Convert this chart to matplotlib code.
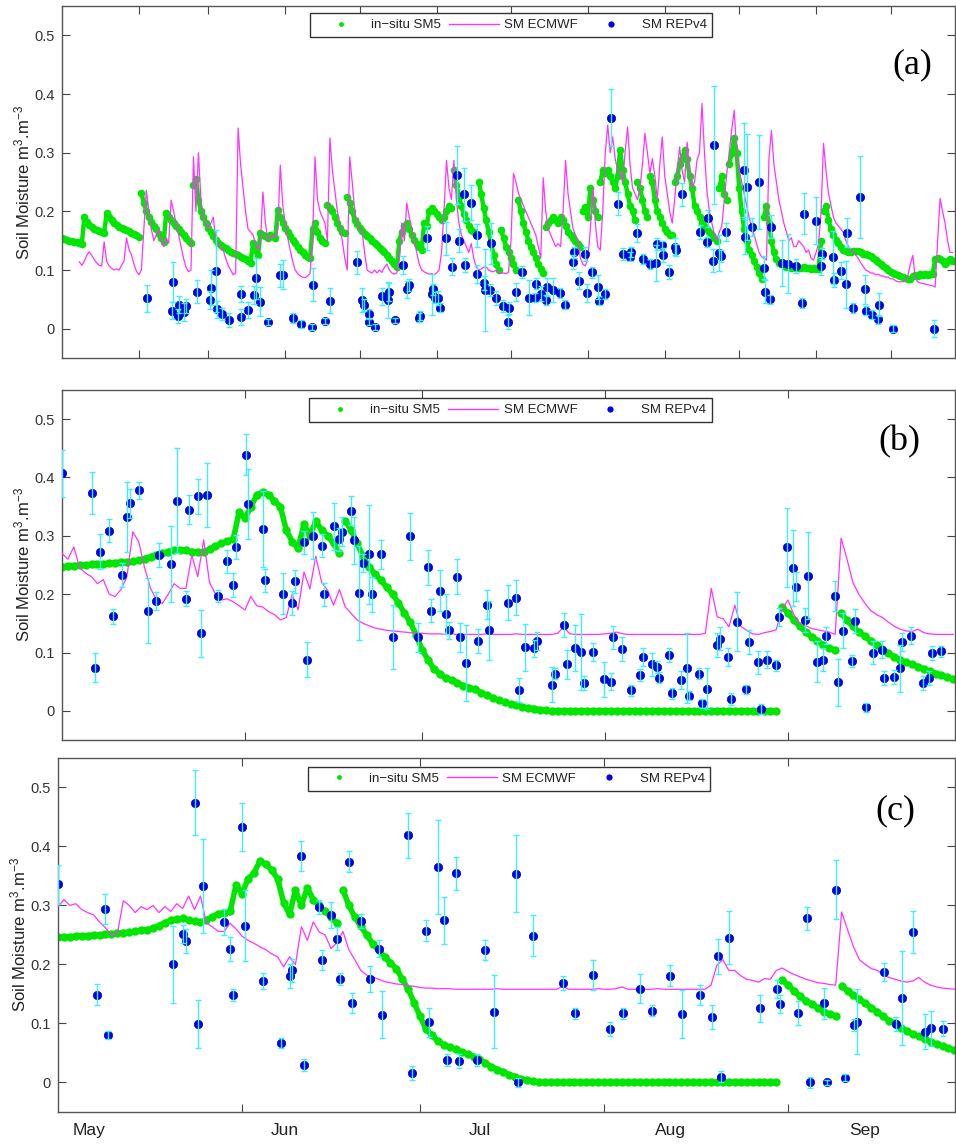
import numpy as np
import matplotlib
matplotlib.use("Agg")
from matplotlib import pyplot as plt
from matplotlib.lines import Line2D
from matplotlib.transforms import blended_transform_factory

plt.rcParams['font.family'] = ['Liberation Sans', 'DejaVu Sans']
plt.rcParams['mathtext.default'] = 'regular'

GREEN = '#00e600'
MAGENTA = '#ff33ff'
BLUE = '#0000f0'
CYAN = '#40eeff'

# ---------------- panel (a): day of year (Jan 1 = 0) ----------------
a_insitu = [
    0.155, 0.153, 0.152, 0.150, 0.150, 0.148, 0.147, 0.146, 0.145, 0.190,
    0.182, 0.177, 0.173, 0.170, 0.168, 0.166, 0.165, 0.163, 0.197, 0.190,
    0.185, 0.180, 0.177, 0.174, 0.172, 0.170, 0.168, 0.166, 0.164, 0.162,
    0.160, 0.157, 0.231, 0.215, 0.200, 0.190, 0.182, 0.175, 0.170, 0.162,
    0.155, 0.148, 0.197, 0.190, 0.185, 0.180, 0.175, 0.170, 0.165, 0.160,
    0.155, 0.150, 0.146, 0.245, 0.255, 0.220, 0.200, 0.190, 0.180, 0.172,
    0.165, 0.158, 0.152, 0.146, 0.143, 0.140, 0.137, 0.134, 0.131, 0.129,
    0.127, 0.125, 0.122, 0.120, 0.118, 0.115, 0.112, 0.146, 0.135, 0.125,
    0.163, 0.160, 0.158, 0.155, 0.160, 0.158, 0.155, 0.202, 0.190, 0.180,
    0.172, 0.165, 0.158, 0.152, 0.146, 0.140, 0.135, 0.130, 0.126, 0.123,
    0.121, 0.170, 0.180, 0.165, 0.155, 0.150, 0.146, 0.211, 0.205, 0.200,
    0.190, 0.180, 0.172, 0.165, 0.163, 0.224, 0.215, 0.200, 0.185, 0.178,
    0.172, 0.167, 0.162, 0.158, 0.154, 0.150, 0.146, 0.142, 0.138, 0.134,
    0.130, 0.125, 0.120, 0.115, 0.110, 0.105, 0.150, 0.165, 0.175, 0.180,
    0.170, 0.160, 0.152, 0.145, 0.140, 0.134, 0.180, 0.175, 0.200, 0.205,
    0.200, 0.195, 0.190, 0.185, 0.190, 0.200, 0.210, 0.205, 0.270, 0.245,
    0.225, 0.210, 0.195, 0.185, 0.175, 0.168, 0.165, 0.160, 0.250, 0.230,
    0.205, 0.185, 0.165, 0.145, 0.125, 0.110, 0.100, 0.168, 0.155, 0.140,
    0.130, 0.120, 0.110, 0.100, 0.219, 0.200, 0.180, 0.165, 0.150, 0.140,
    0.130, 0.120, 0.110, 0.102, 0.095, 0.173, 0.180, 0.185, 0.190, 0.185,
    0.180, 0.190, 0.185, 0.175, 0.165, 0.160, 0.155, 0.150, 0.145, 0.140,
    0.200, 0.207, 0.190, 0.240, 0.220, 0.200, 0.190, 0.250, 0.270, 0.265,
    0.270, 0.260, 0.250, 0.240, 0.260, 0.305, 0.270, 0.250, 0.230, 0.210,
    0.200, 0.185, 0.250, 0.240, 0.220, 0.200, 0.190, 0.260, 0.250, 0.220,
    0.200, 0.190, 0.180, 0.170, 0.165, 0.160, 0.160, 0.250, 0.260, 0.280,
    0.290, 0.305, 0.290, 0.260, 0.240, 0.210, 0.200, 0.190, 0.180, 0.175,
    0.170, 0.165, 0.160, 0.155, 0.150, 0.240, 0.260, 0.230, 0.220, 0.280,
    0.300, 0.325, 0.300, 0.240, 0.200, 0.170, 0.150, 0.135, 0.125, 0.115,
    0.105, 0.095, 0.085, 0.190, 0.210, 0.180, 0.150, 0.130, 0.118, 0.112,
    0.110, 0.108, 0.106, 0.105, 0.104, 0.105, 0.104, 0.103, 0.104, 0.105,
    0.104, 0.103, 0.102, 0.103, 0.102, 0.101, 0.150, 0.200, 0.210, 0.185,
    0.170, 0.160, 0.152, 0.146, 0.140, 0.135, 0.132, 0.130, 0.130, 0.132,
    0.133, 0.132, 0.130, 0.128, 0.127, 0.126, 0.124, 0.120, 0.117, 0.114,
    0.110, 0.107, 0.104, 0.100, 0.097, 0.095, 0.093, 0.092, 0.090, 0.088,
    0.087, 0.085, 0.085, 0.090, 0.092, 0.090, 0.093, 0.092, 0.093, 0.092,
    0.093, 0.094, 0.118, 0.120, 0.118, 0.115, 0.110, 0.115, 0.118, 0.116,
]

a_ecmwf_first_day = 7
a_ecmwf = [
    0.114, 0.108, 0.115,
    0.125, 0.131, 0.125, 0.118, 0.112, 0.108, 0.107, 0.148, 0.115, 0.107,
    0.103, 0.100, 0.102, 0.100, 0.108, 0.115, 0.155, 0.135, 0.126, 0.110,
    0.098, 0.092, 0.100, 0.170, 0.236, 0.200, 0.170, 0.150, 0.160, 0.170,
    0.150, 0.140, 0.155, 0.146, 0.219, 0.200, 0.180, 0.160, 0.140, 0.120,
    0.105, 0.097, 0.100, 0.293, 0.200, 0.300, 0.220, 0.190, 0.180, 0.170,
    0.180, 0.190, 0.150, 0.145, 0.140, 0.134, 0.120, 0.108, 0.100, 0.092,
    0.095, 0.342, 0.280, 0.240, 0.200, 0.170, 0.165, 0.160, 0.145, 0.134,
    0.150, 0.233, 0.180, 0.150, 0.155, 0.160, 0.155, 0.170, 0.279, 0.210,
    0.180, 0.155, 0.134, 0.115, 0.100, 0.094, 0.090, 0.088, 0.087, 0.090,
    0.094, 0.150, 0.293, 0.220, 0.200, 0.190, 0.180, 0.150, 0.325, 0.270,
    0.236, 0.200, 0.180, 0.150, 0.120, 0.100, 0.293, 0.250, 0.200, 0.180,
    0.170, 0.165, 0.130, 0.100, 0.097, 0.095, 0.100, 0.095, 0.100, 0.096,
    0.105, 0.110, 0.100, 0.095, 0.093, 0.095, 0.120, 0.180, 0.150, 0.214,
    0.190, 0.170, 0.150, 0.130, 0.110, 0.100, 0.097, 0.095, 0.093, 0.094,
    0.092, 0.095, 0.100, 0.130, 0.200, 0.287, 0.240, 0.220, 0.287, 0.220,
    0.180, 0.160, 0.150, 0.140, 0.130, 0.145, 0.120, 0.105, 0.100, 0.102,
    0.105, 0.105, 0.100, 0.098, 0.097, 0.100, 0.097, 0.095, 0.095, 0.094,
    0.096, 0.150, 0.265, 0.250, 0.231, 0.220, 0.210, 0.200, 0.190, 0.180,
    0.170, 0.160, 0.140, 0.120, 0.257, 0.200, 0.170, 0.160, 0.150, 0.140,
    0.145, 0.140, 0.200, 0.287, 0.230, 0.200, 0.170, 0.160, 0.150, 0.120,
    0.110, 0.107, 0.120, 0.170, 0.240, 0.180, 0.140, 0.134, 0.200, 0.300,
    0.347, 0.300, 0.327, 0.290, 0.270, 0.265, 0.250, 0.300, 0.344, 0.280,
    0.240, 0.230, 0.220, 0.240, 0.280, 0.333, 0.300, 0.265, 0.290, 0.260,
    0.220, 0.280, 0.327, 0.260, 0.230, 0.200, 0.180, 0.220, 0.270, 0.310,
    0.270, 0.250, 0.318, 0.270, 0.240, 0.250, 0.287, 0.300, 0.384, 0.300,
    0.235, 0.200, 0.180, 0.160, 0.151, 0.165, 0.175, 0.220, 0.265, 0.300,
    0.340, 0.372, 0.300, 0.270, 0.250, 0.230, 0.210, 0.190, 0.173, 0.160,
    0.145, 0.130, 0.123, 0.120, 0.117, 0.290, 0.338, 0.280, 0.250, 0.220,
    0.200, 0.180, 0.165, 0.150, 0.155, 0.140, 0.140, 0.150, 0.145, 0.140,
    0.130, 0.134, 0.120, 0.117, 0.130, 0.145, 0.200, 0.316, 0.270, 0.231,
    0.210, 0.190, 0.180, 0.175, 0.170, 0.164, 0.150, 0.140, 0.135, 0.130,
    0.125, 0.120, 0.112, 0.106, 0.100, 0.098, 0.095, 0.095, 0.092, 0.093,
    0.090, 0.090, 0.088, 0.088, 0.085, 0.085, 0.082, 0.080, 0.080, 0.080,
    0.082, 0.090, 0.110, 0.125, 0.085, 0.080, 0.078, 0.077, 0.076, 0.075,
    0.074, 0.073, 0.071, 0.150, 0.222, 0.200, 0.180, 0.150, 0.130, 0.130,
]

a_rep_day = [
    34.1, 44.2, 44.6, 46.6, 47.0, 49.3, 49.8, 54.5, 59.6, 60.0,
    62.0, 62.6, 64.7, 67.4, 72.1, 72.3, 75.0, 77.5, 78.2, 80.0,
    83.0, 87.8, 88.9, 93.2, 96.2, 100.7, 101.3, 106.2, 108.2, 119.0,
    121.0, 121.8, 123.7, 123.9, 126.1, 129.0, 131.5, 131.9, 134.2, 137.3,
    139.1, 139.7, 144.0, 144.5, 147.0, 149.0, 149.6, 150.4, 151.6, 152.3,
    155.0, 157.4, 159.4, 159.9, 162.0, 162.5, 165.0, 167.1, 167.5, 170.0,
    170.4, 172.4, 172.8, 175.1, 177.8, 179.8, 180.1, 182.9, 185.5, 188.2,
    190.6, 191.0, 193.0, 195.3, 195.7, 198.0, 200.9, 202.9, 206.0, 206.4,
    208.4, 210.7, 211.5, 213.8, 216.1, 216.5, 218.8, 221.5, 224.1, 226.3,
    228.8, 229.5, 231.9, 234.4, 236.9, 239.6, 239.8, 242.0, 242.3, 244.6,
    247.0, 247.4, 250.0, 257.3, 260.0, 260.4, 262.4, 262.8, 265.0, 265.5,
    267.5, 274.9, 275.4, 276.1, 278.1, 281.0, 283.0, 283.5, 285.5, 286.0,
    290.4, 292.6, 295.7, 298.4, 299.0, 303.8, 305.8, 306.3, 310.8, 311.2,
    313.9, 316.1, 316.4, 318.8, 321.8, 323.9, 324.2, 326.6, 328.9, 329.2,
    334.9, 351.7,
]
a_rep_sm = [
    0.052, 0.031, 0.079, 0.021, 0.041, 0.028, 0.039, 0.063, 0.049, 0.070,
    0.099, 0.033, 0.025, 0.015, 0.020, 0.059, 0.032, 0.057, 0.086, 0.046,
    0.011, 0.091, 0.092, 0.018, 0.008, 0.003, 0.075, 0.013, 0.048, 0.113,
    0.049, 0.041, 0.025, 0.012, 0.003, 0.055, 0.049, 0.063, 0.014, 0.109,
    0.067, 0.075, 0.019, 0.022, 0.155, 0.059, 0.067, 0.053, 0.053, 0.036,
    0.154, 0.106, 0.262, 0.150, 0.229, 0.109, 0.215, 0.159, 0.093, 0.078,
    0.066, 0.066, 0.146, 0.052, 0.039, 0.011, 0.035, 0.063, 0.097, 0.053,
    0.053, 0.077, 0.060, 0.049, 0.071, 0.066, 0.061, 0.041, 0.113, 0.130,
    0.082, 0.127, 0.061, 0.096, 0.071, 0.048, 0.059, 0.360, 0.213, 0.127,
    0.123, 0.131, 0.163, 0.119, 0.110, 0.112, 0.145, 0.142, 0.126, 0.096,
    0.140, 0.134, 0.229, 0.165, 0.148, 0.188, 0.116, 0.313, 0.129, 0.124,
    0.165, 0.270, 0.157, 0.242, 0.173, 0.250, 0.104, 0.063, 0.050, 0.174,
    0.112, 0.111, 0.107, 0.044, 0.196, 0.184, 0.107, 0.128, 0.122, 0.083,
    0.099, 0.076, 0.164, 0.035, 0.224, 0.067, 0.031, 0.024, 0.016, 0.041,
    0.000, 0.000,
]
a_rep_err = [
    0.023, 0.015, 0.034, 0.012, 0.015, 0.015, 0.012, 0.020, 0.015, 0.030,
    0.070, 0.015, 0.010, 0.012, 0.013, 0.013, 0.013, 0.015, 0.035, 0.025,
    0.005, 0.020, 0.025, 0.008, 0.006, 0.005, 0.028, 0.005, 0.022, 0.020,
    0.020, 0.010, 0.008, 0.006, 0.005, 0.015, 0.030, 0.015, 0.005, 0.015,
    0.015, 0.010, 0.008, 0.008, 0.020, 0.035, 0.010, 0.010, 0.012, 0.008,
    0.028, 0.015, 0.050, 0.020, 0.045, 0.012, 0.030, 0.020, 0.015, 0.012,
    0.070, 0.010, 0.035, 0.012, 0.010, 0.012, 0.010, 0.015, 0.010, 0.030,
    0.008, 0.010, 0.012, 0.008, 0.015, 0.020, 0.008, 0.008, 0.012, 0.010,
    0.015, 0.012, 0.015, 0.010, 0.020, 0.008, 0.008, 0.048, 0.020, 0.010,
    0.008, 0.008, 0.015, 0.008, 0.008, 0.030, 0.010, 0.008, 0.012, 0.012,
    0.015, 0.010, 0.020, 0.012, 0.008, 0.015, 0.020, 0.100, 0.030, 0.010,
    0.015, 0.080, 0.030, 0.090, 0.015, 0.080, 0.020, 0.020, 0.008, 0.020,
    0.040, 0.050, 0.012, 0.008, 0.035, 0.040, 0.015, 0.010, 0.045, 0.012,
    0.015, 0.040, 0.025, 0.008, 0.070, 0.025, 0.008, 0.008, 0.008, 0.020,
    0.006, 0.014,
]

# ---------------- panel (b): days since May 1 ----------------
b_insitu = [
    0.247, 0.248, 0.249, 0.250, 0.250, 0.251, 0.252, 0.252, 0.253, 0.254,
    0.255, 0.255, 0.256, 0.258, 0.261, 0.264, 0.267, 0.270, 0.273, 0.275,
    0.276, 0.275, 0.273, 0.272, 0.273, 0.277, 0.282, 0.287, 0.291, 0.294,
    0.340, 0.330, 0.350, 0.370, 0.375, 0.370, 0.360, 0.350, 0.310, 0.290,
    0.279, 0.320, 0.300, 0.325, 0.310, 0.300, 0.287, 0.270, 0.325, 0.310,
    0.287, 0.265, 0.247, 0.235, 0.224, 0.212, 0.200, 0.185, 0.168, 0.152,
    0.130, 0.105, 0.088, 0.072, 0.064, 0.056, 0.053, 0.048, 0.043, 0.040,
    0.037, 0.031, 0.027, 0.022, 0.018, 0.015, 0.012, 0.010, 0.007, 0.005,
    0.004, 0.002, 0.001, 0.000, 0.000, 0.000, 0.000, 0.000, 0.000, 0.000,
    0.000, 0.000, 0.000, 0.000, 0.000, 0.000, 0.000, 0.000, 0.000, 0.000,
    0.000, 0.000, 0.000, 0.000, 0.000, 0.000, 0.000, 0.000, 0.000, 0.000,
    0.000, 0.000, 0.000, 0.000, 0.000, 0.000, 0.000, 0.000, 0.000, 0.000,
    0.000, 0.000, 0.178, 0.168, 0.155, 0.145, 0.135, 0.127, 0.120, 0.113,
    0.108, 0.104, 0.167, 0.155, 0.145, 0.135, 0.128, 0.120, 0.113, 0.106,
    0.099, 0.093, 0.088, 0.083, 0.080, 0.076, 0.072, 0.068, 0.064, 0.061,
    0.058, 0.054,
]
b_ecmwf = [
    0.270, 0.260, 0.281, 0.245, 0.236, 0.230, 0.218, 0.225, 0.200, 0.196,
    0.208, 0.230, 0.307, 0.290, 0.245, 0.210, 0.190, 0.184, 0.200, 0.218,
    0.210, 0.210, 0.267, 0.230, 0.293, 0.220, 0.200, 0.190, 0.192, 0.187,
    0.180, 0.173, 0.196, 0.180, 0.178, 0.170, 0.165, 0.156, 0.160, 0.200,
    0.173, 0.238, 0.209, 0.265, 0.220, 0.207, 0.181, 0.208, 0.178, 0.167,
    0.156, 0.150, 0.146, 0.142, 0.140, 0.138, 0.137, 0.136, 0.135, 0.134,
    0.133, 0.133, 0.132, 0.132, 0.132, 0.131, 0.132, 0.131, 0.131, 0.131,
    0.131, 0.131, 0.132, 0.131, 0.131, 0.131, 0.131, 0.132, 0.131, 0.131,
    0.131, 0.131, 0.131, 0.131, 0.133, 0.144, 0.132, 0.131, 0.131, 0.131,
    0.131, 0.131, 0.132, 0.133, 0.135, 0.132, 0.131, 0.131, 0.131, 0.131,
    0.131, 0.131, 0.131, 0.131, 0.131, 0.131, 0.131, 0.131, 0.131, 0.133,
    0.210, 0.161, 0.158, 0.144, 0.181, 0.145, 0.138, 0.132, 0.131, 0.134,
    0.136, 0.139, 0.175, 0.190, 0.165, 0.150, 0.146, 0.141, 0.139, 0.137,
    0.135, 0.131, 0.296, 0.260, 0.220, 0.200, 0.185, 0.172, 0.165, 0.160,
    0.152, 0.145, 0.140, 0.137, 0.136, 0.140, 0.134, 0.132, 0.131, 0.131,
    0.131, 0.131,
]
b_rep_day = [
    0.05, 5.1, 5.6, 6.5, 8.0, 8.6, 10.1, 11.0, 11.5, 13.1,
    14.5, 16.0, 16.5, 18.5, 19.5, 21.0, 21.5, 23.0, 23.5, 24.5,
    26.5, 28.0, 29.0, 29.5, 31.1, 31.5, 34.1, 34.4, 37.4, 39.0,
    39.5, 41.0, 41.5, 42.5, 44.0, 44.4, 46.0, 46.9, 47.5, 49.0,
    49.5, 50.4, 51.0, 52.0, 52.5, 54.0, 56.0, 59.0, 60.4, 62.0,
    62.5, 64.0, 65.0, 65.5, 67.0, 67.4, 68.4, 70.4, 72.0, 72.4,
    75.5, 77.0, 77.4, 78.4, 80.0, 80.4, 83.0, 83.5, 85.0, 85.5,
    86.9, 87.9, 88.4, 90.0, 91.9, 93.0, 93.4, 94.9, 96.4, 97.9,
    98.4, 99.9, 100.8, 101.2, 102.9, 103.4, 104.9, 105.9, 106.3, 107.9,
    108.4, 109.3, 110.9, 111.4, 112.9, 113.4, 114.4, 115.9, 116.4, 117.9,
    118.4, 119.4, 120.9, 121.4, 122.9, 123.9, 124.4, 125.9, 126.4, 127.9,
    128.9, 129.4, 130.9, 131.4, 132.4, 133.9, 134.4, 136.3, 137.4, 138.9,
    139.3, 140.9, 141.9, 142.3, 143.9, 145.9, 146.9, 147.4, 148.9,
]
b_rep_sm = [
    0.407, 0.374, 0.074, 0.273, 0.309, 0.162, 0.233, 0.332, 0.356, 0.378,
    0.172, 0.188, 0.267, 0.251, 0.360, 0.192, 0.345, 0.368, 0.133, 0.370,
    0.197, 0.256, 0.216, 0.281, 0.439, 0.355, 0.312, 0.224, 0.201, 0.185,
    0.222, 0.289, 0.088, 0.300, 0.283, 0.200, 0.316, 0.294, 0.307, 0.343,
    0.292, 0.202, 0.253, 0.268, 0.200, 0.268, 0.126, 0.299, 0.126, 0.246,
    0.172, 0.206, 0.166, 0.138, 0.230, 0.126, 0.082, 0.120, 0.182, 0.138,
    0.185, 0.194, 0.036, 0.109, 0.107, 0.120, 0.045, 0.064, 0.147, 0.080,
    0.108, 0.101, 0.047, 0.101, 0.054, 0.050, 0.126, 0.106, 0.035, 0.062,
    0.092, 0.080, 0.075, 0.057, 0.095, 0.030, 0.053, 0.074, 0.026, 0.064,
    0.013, 0.038, 0.113, 0.124, 0.092, 0.020, 0.153, 0.037, 0.118, 0.083,
    0.003, 0.088, 0.078, 0.161, 0.280, 0.245, 0.213, 0.156, 0.232, 0.084,
    0.088, 0.129, 0.197, 0.049, 0.137, 0.086, 0.154, 0.006, 0.100, 0.105,
    0.057, 0.058, 0.073, 0.118, 0.129, 0.048, 0.057, 0.100, 0.102,
]
b_rep_err = [
    0.040, 0.036, 0.025, 0.030, 0.020, 0.013, 0.020, 0.060, 0.025, 0.015,
    0.055, 0.015, 0.020, 0.065, 0.090, 0.013, 0.025, 0.030, 0.040, 0.055,
    0.010, 0.020, 0.020, 0.020, 0.035, 0.060, 0.065, 0.020, 0.035, 0.020,
    0.020, 0.020, 0.030, 0.040, 0.020, 0.020, 0.040, 0.020, 0.025, 0.025,
    0.040, 0.080, 0.015, 0.085, 0.030, 0.025, 0.055, 0.040, 0.025, 0.030,
    0.020, 0.035, 0.035, 0.015, 0.030, 0.025, 0.065, 0.020, 0.025, 0.050,
    0.030, 0.030, 0.020, 0.040, 0.015, 0.015, 0.030, 0.010, 0.020, 0.025,
    0.040, 0.065, 0.012, 0.015, 0.030, 0.015, 0.020, 0.020, 0.010, 0.010,
    0.015, 0.020, 0.010, 0.010, 0.012, 0.010, 0.015, 0.060, 0.008, 0.010,
    0.008, 0.035, 0.020, 0.020, 0.015, 0.010, 0.050, 0.008, 0.020, 0.020,
    0.008, 0.015, 0.010, 0.015, 0.067, 0.065, 0.025, 0.020, 0.075, 0.035,
    0.020, 0.015, 0.025, 0.040, 0.030, 0.010, 0.020, 0.008, 0.020, 0.015,
    0.012, 0.012, 0.040, 0.015, 0.015, 0.012, 0.012, 0.012, 0.010,
]

# ---------------- panel (c): days since May 1 ----------------
c_insitu = [
    0.246, 0.247, 0.247, 0.248, 0.248, 0.249, 0.250, 0.250, 0.251, 0.252,
    0.253, 0.254, 0.255, 0.256, 0.258, 0.259, 0.261, 0.266, 0.271, 0.275,
    0.277, 0.278, 0.275, 0.273, 0.272, 0.275, 0.281, 0.286, 0.288, 0.290,
    0.335, 0.320, 0.345, 0.355, 0.375, 0.370, 0.360, 0.345, 0.305, 0.285,
    0.326, 0.300, 0.330, 0.310, 0.300, 0.290, 0.280, 0.270, 0.326, 0.300,
    0.280, 0.265, 0.250, 0.235, 0.224, 0.213, 0.203, 0.193, 0.175, 0.158,
    0.135, 0.112, 0.090, 0.080, 0.070, 0.064, 0.060, 0.056, 0.052, 0.048,
    0.044, 0.039, 0.033, 0.027, 0.022, 0.018, 0.013, 0.010, 0.006, 0.004,
    0.002, 0.001, 0.000, 0.000, 0.000, 0.000, 0.000, 0.000, 0.000, 0.000,
    0.000, 0.000, 0.000, 0.000, 0.000, 0.000, 0.000, 0.000, 0.000, 0.000,
    0.000, 0.000, 0.000, 0.000, 0.000, 0.000, 0.000, 0.000, 0.000, 0.000,
    0.000, 0.000, 0.000, 0.000, 0.000, 0.000, 0.000, 0.000, 0.000, 0.000,
    0.000, 0.000, 0.174, 0.165, 0.155, 0.146, 0.138, 0.133, 0.127, 0.120,
    0.116, 0.113, 0.164, 0.155, 0.148, 0.141, 0.134, 0.127, 0.120, 0.112,
    0.105, 0.100, 0.093, 0.087, 0.082, 0.078, 0.073, 0.069, 0.065, 0.062,
    0.058, 0.055,
]
c_ecmwf = [
    0.298, 0.310, 0.300, 0.303, 0.293, 0.288, 0.284, 0.272, 0.262, 0.250,
    0.252, 0.308, 0.300, 0.288, 0.298, 0.293, 0.300, 0.288, 0.298, 0.290,
    0.303, 0.295, 0.316, 0.293, 0.316, 0.270, 0.264, 0.256, 0.256, 0.270,
    0.260, 0.248, 0.241, 0.236, 0.230, 0.225, 0.218, 0.213, 0.196, 0.213,
    0.200, 0.264, 0.241, 0.272, 0.255, 0.250, 0.227, 0.237, 0.256, 0.225,
    0.208, 0.190, 0.182, 0.179, 0.175, 0.171, 0.169, 0.167, 0.166, 0.164,
    0.163, 0.161, 0.160, 0.160, 0.159, 0.159, 0.159, 0.158, 0.158, 0.158,
    0.158, 0.158, 0.158, 0.158, 0.159, 0.158, 0.158, 0.158, 0.158, 0.158,
    0.158, 0.158, 0.158, 0.158, 0.158, 0.163, 0.158, 0.158, 0.158, 0.158,
    0.158, 0.159, 0.158, 0.158, 0.159, 0.162, 0.158, 0.158, 0.158, 0.158,
    0.158, 0.159, 0.158, 0.158, 0.158, 0.158, 0.158, 0.158, 0.158, 0.158,
    0.165, 0.199, 0.208, 0.190, 0.190, 0.181, 0.175, 0.173, 0.170, 0.176,
    0.175, 0.190, 0.194, 0.188, 0.183, 0.179, 0.175, 0.172, 0.169, 0.168,
    0.166, 0.165, 0.289, 0.259, 0.230, 0.208, 0.200, 0.193, 0.190, 0.183,
    0.178, 0.175, 0.172, 0.170, 0.172, 0.178, 0.170, 0.165, 0.162, 0.160,
    0.159, 0.158,
]
c_rep_day = [
    0.0, 6.5, 8.0, 8.5, 19.4, 21.0, 21.5, 23.0, 23.5, 24.5,
    28.0, 29.0, 29.5, 31.0, 31.5, 34.5, 37.5, 39.0, 39.5, 41.0,
    41.5, 44.0, 44.5, 46.0, 47.0, 47.5, 49.0, 49.5, 51.0, 52.5,
    54.0, 54.5, 59.0, 59.6, 62.0, 62.5, 64.0, 65.0, 65.6, 67.0,
    67.5, 70.6, 72.0, 73.5, 77.1, 77.5, 80.0, 85.0, 87.1, 90.1,
    93.0, 95.1, 98.0, 100.1, 103.1, 105.1, 108.1, 110.1, 111.1, 111.6,
    113.1, 118.2, 121.1, 121.6, 124.6, 126.1, 126.6, 129.1, 129.6, 131.1,
    132.5, 134.1, 134.6, 139.1, 141.1, 142.1, 144.1, 146.0, 147.0, 149.1,
]
c_rep_sm = [
    0.336, 0.149, 0.294, 0.080, 0.200, 0.252, 0.240, 0.474, 0.099, 0.333,
    0.272, 0.226, 0.148, 0.433, 0.266, 0.172, 0.067, 0.180, 0.190, 0.384,
    0.029, 0.298, 0.208, 0.284, 0.244, 0.176, 0.374, 0.134, 0.274, 0.176,
    0.227, 0.115, 0.419, 0.016, 0.257, 0.102, 0.365, 0.275, 0.038, 0.355,
    0.036, 0.038, 0.225, 0.120, 0.354, 0.000, 0.249, 0.168, 0.117, 0.182,
    0.091, 0.117, 0.159, 0.122, 0.181, 0.116, 0.148, 0.111, 0.214, 0.010,
    0.245, 0.126, 0.159, 0.133, 0.118, 0.278, 0.000, 0.134, 0.000, 0.327,
    0.008, 0.097, 0.103, 0.187, 0.099, 0.143, 0.255, 0.086, 0.092, 0.091,
]
c_rep_err = [
    0.033, 0.018, 0.025, 0.007, 0.065, 0.015, 0.020, 0.055, 0.040, 0.080,
    0.022, 0.020, 0.010, 0.040, 0.060, 0.013, 0.009, 0.020, 0.020, 0.025,
    0.010, 0.012, 0.017, 0.022, 0.020, 0.010, 0.018, 0.017, 0.012, 0.022,
    0.015, 0.040, 0.038, 0.012, 0.018, 0.025, 0.080, 0.040, 0.010, 0.028,
    0.012, 0.010, 0.017, 0.062, 0.065, 0.008, 0.035, 0.012, 0.010, 0.025,
    0.012, 0.010, 0.025, 0.010, 0.018, 0.040, 0.017, 0.020, 0.030, 0.010,
    0.045, 0.023, 0.015, 0.015, 0.020, 0.020, 0.010, 0.026, 0.004, 0.050,
    0.006, 0.010, 0.055, 0.015, 0.012, 0.080, 0.035, 0.030, 0.030, 0.013,
]

legend_labels = ["in\u2212situ SM5", "SM ECMWF", "SM REPv4"]
yticks = [0, 0.1, 0.2, 0.3, 0.4, 0.5]
# month starts, day of year (panel a) and days since May 1 (panels b, c)
a_month_ticks = [31, 59, 90, 120, 151, 181, 212, 243, 273, 304, 334]
bc_month_ticks = [31, 61, 92, 123]
month_names = ["May", "Jun", "Jul", "Aug", "Sep"]
month_label_days = [5.3, 38.2, 71.1, 103.1, 135.8]


def draw_panel(ax, insitu, ecmwf_first, ecmwf, rep_day, rep_sm, rep_err, green_ms, green_lw):
    days = np.arange(len(insitu), dtype=float)
    vals = np.array(insitu, dtype=float)
    # a big jump upward starts a new stroke of the in-situ band
    jumps = np.where(np.diff(vals) > 0.05)[0] + 1
    band_x = np.insert(days, jumps, np.nan)
    band_y = np.insert(vals, jumps, np.nan)
    ax.plot(band_x, band_y, ls='-', lw=green_lw, color=GREEN, zorder=2,
            solid_capstyle='round', solid_joinstyle='round')
    ax.plot(days, vals, ls='none', marker='o', ms=green_ms, color=GREEN,
            mec='none', zorder=2)
    ax.plot(np.arange(ecmwf_first, ecmwf_first + len(ecmwf)), ecmwf,
            color=MAGENTA, lw=0.9, zorder=3)
    ax.plot(rep_day, rep_sm, ls='none', marker='o', ms=6, color=BLUE,
            mec='#0000b0', mew=0.5, zorder=4)
    ax.errorbar(rep_day, rep_sm, yerr=rep_err, fmt='none', ecolor=CYAN,
                elinewidth=1.0, capsize=2.5, capthick=1.0, zorder=5)


def style_axes(ax, xmax, ticks):
    ax.set_xlim(0, xmax)
    ax.set_ylim(-0.05, 0.55)
    ax.set_yticks(yticks)
    ax.set_yticklabels([f"{v:g}" for v in yticks])
    ax.set_xticks(ticks)
    ax.set_xticklabels([])
    ax.tick_params(direction='in', length=6, width=0.8, top=True, right=True,
                   labelsize=10.5, colors='#444444', labelcolor='#333333', pad=5)
    for s in ax.spines.values():
        s.set_color('#555555')
        s.set_linewidth(1.0)
    ax.set_ylabel("Soil Moisture m$^3$.m$^{-3}$", fontsize=12, color='#222222', va='center')
    ax.yaxis.set_label_coords(-0.044, 0.5)


def add_legend(ax, x, y):
    handles = [
        Line2D([], [], ls='none', marker='o', ms=3.5, color=GREEN, mec='none'),
        Line2D([], [], color=MAGENTA, lw=1.0),
        Line2D([], [], ls='none', marker='o', ms=4.5, color=BLUE, mec='none'),
    ]
    leg = ax.legend(handles, legend_labels, loc='upper center', bbox_to_anchor=(x, y),
                    ncol=3, fontsize=9.5, frameon=True, fancybox=False,
                    edgecolor='#333333', framealpha=1, handlelength=3.8,
                    handletextpad=0.4, columnspacing=0.6, borderpad=0.45,
                    borderaxespad=0)
    leg.get_frame().set_linewidth(1.0)
    for t in leg.get_texts():
        t.set_color('#222222')


fig = plt.figure(figsize=(9.56, 11.45), dpi=100)
ax_a = fig.add_axes([62 / 956, 0.6873, 893 / 956, 0.3074])
ax_b = fig.add_axes([62 / 956, 0.3537, 893 / 956, 0.3057])
ax_c = fig.add_axes([58 / 956, 0.02882, 897 / 956, 0.3092])

draw_panel(ax_a, a_insitu, a_ecmwf_first_day, a_ecmwf, a_rep_day, a_rep_sm, a_rep_err, 5.5, 3.2)
draw_panel(ax_b, b_insitu, 0, b_ecmwf, b_rep_day, b_rep_sm, b_rep_err, 6.0, 4.0)
draw_panel(ax_c, c_insitu, 0, c_ecmwf, c_rep_day, c_rep_sm, c_rep_err, 6.0, 4.0)

style_axes(ax_a, 360, a_month_ticks)
style_axes(ax_b, 151.3, bc_month_ticks)
style_axes(ax_c, 151.1, bc_month_ticks)

add_legend(ax_a, 0.503, 0.980)
add_legend(ax_b, 0.502, 0.977)
add_legend(ax_c, 0.503, 0.975)

for ax, lab, x, y in [(ax_a, "(a)", 0.952, 0.832), (ax_b, "(b)", 0.938, 0.851),
                      (ax_c, "(c)", 0.934, 0.850)]:
    ax.text(x, y, lab, transform=ax.transAxes, fontsize=26, family='Liberation Serif',
            ha='center', va='center', color='black')

trans = blended_transform_factory(ax_c.transData, ax_c.transAxes)
for d, name in zip(month_label_days, month_names):
    ax_c.text(d, -0.051, name, transform=trans, ha='center', va='center',
              fontsize=12.5, color='#222222')

fig.savefig("out.png", dpi=100)
